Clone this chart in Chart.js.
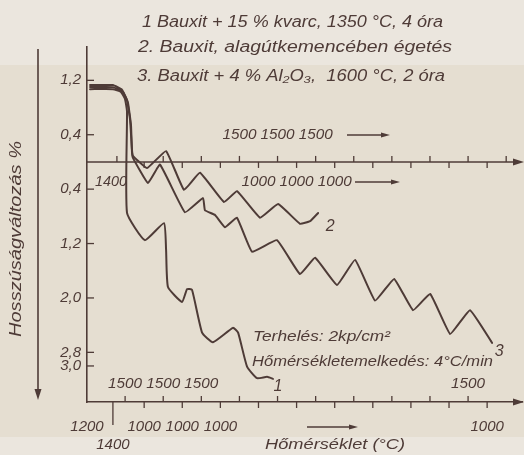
<!DOCTYPE html>
<html><head><meta charset="utf-8">
<script src="https://cdn.jsdelivr.net/npm/chart.js@4"></script>
<style>html,body{margin:0;padding:0;background:#e5ded1;}canvas{display:block;}</style>
</head><body>
<canvas id="c" width="524" height="455"></canvas>
<script>
// ---------- data (x: time in heating-cycle steps, y: length change %) ----------
const curve1X = [0.16,1.36,1.78,1.99,2.10,2.10,3.04,4.04,4.15,4.25,4.99,5.25,5.51,6.04,6.61,7.66,7.93,8.40,8.92,9.45,9.76];
const curve1Y = [1.07,1.07,1.03,0.93,0.74,-0.75,-1.15,-0.90,-1.29,-1.84,-2.06,-1.87,-1.88,-2.51,-2.65,-2.44,-2.51,-3.01,-3.18,-3.16,-3.19];
const curve2X = [0.16,1.36,1.84,2.10,2.26,2.36,2.41,3.15,4.15,5.09,5.93,7.19,7.87,9.08,10.03,11.18,11.71,12.13];
const curve2Y = [1.13,1.13,1.06,0.91,0.62,0.18,0.09,-0.09,0.16,-0.41,-0.16,-0.59,-0.43,-0.82,-0.62,-0.91,-0.87,-0.75];
const curve3X = [0.16,1.36,1.89,2.15,2.31,2.36,2.41,3.20,3.83,5.14,6.09,6.19,6.72,7.24,7.87,8.66,9.97,11.18,11.97,13.12,14.07,15.12,16.12,17.11,18.01,19.06,20.10,21.26];
const curve3Y = [1.10,1.10,1.03,0.87,0.54,0.15,0.06,-0.31,-0.04,-0.74,-0.53,-0.71,-0.78,-0.96,-0.82,-1.32,-1.15,-1.65,-1.41,-1.81,-1.44,-2.04,-1.72,-2.18,-1.94,-2.53,-2.18,-2.66];
const curveNames = ['1','2','3'];

const yTickValues = [1.2,0.4,0,-0.4,-1.2,-2.0,-2.8,-3.0];
const yTickLabels = ['1,2','0,4','','0,4','1,2','2,0','2,8','3,0'];
const xTickValues = [0,1.36,3,5,7,21];
const xTickLabels = ['1200',['','1400'],'1000','1000','1000','1000'];

const midUpperValues = [8,10,12];      const midUpperLabels = ['1500','1500','1500'];
const midLowerValues = [9,11,13];      const midLowerLabels = ['1000','1000','1000'];
const midStartValue = 1.26;            const midStartLabel = '1400';
const bottomInnerValues = [2,4,6,20];  const bottomInnerLabels = ['1500','1500','1500','1500'];

const legendLines = ['1 Bauxit + 15 % kvarc, 1350 °C, 4 óra',
                     '2. Bauxit, alagútkemencében égetés',
                     '3. Bauxit + 4 % Al\u2082O\u2083,  1600 °C, 2 óra'];
const noteLines = ['Terhelés: 2kp/cm²','Hőmérsékletemelkedés: 4°C/min'];
const yTitle = 'Hosszúságváltozás %';
const xTitle = 'Hőmérséklet (°C)';

// ---------- styling ----------
const INK = '#4e3b37';
const FONT = '"Liberation Sans","DejaVu Sans",sans-serif';

function pts(xs, ys){ return xs.map((x,i)=>({x:x, y:ys[i]})); }

function drawT(ctx, s, x, y, size, w, align){
  ctx.save();
  ctx.font = 'italic ' + size + 'px ' + FONT;
  ctx.fillStyle = INK; ctx.textBaseline = 'middle'; ctx.textAlign = align || 'left';
  const m = ctx.measureText(s).width;
  const sx = w ? w / m : 1;
  ctx.translate(x, y); ctx.scale(sx, 1); ctx.fillText(s, 0, 0);
  ctx.restore();
}
function hArrow(ctx, x1, x2, y, head, hw, lw){
  ctx.save(); ctx.strokeStyle = INK; ctx.fillStyle = INK; ctx.lineWidth = lw;
  ctx.beginPath(); ctx.moveTo(x1, y); ctx.lineTo(x2 - head + 1, y); ctx.stroke();
  ctx.beginPath(); ctx.moveTo(x2, y); ctx.lineTo(x2 - head, y - hw); ctx.lineTo(x2 - head, y + hw); ctx.closePath(); ctx.fill();
  ctx.restore();
}
function line(ctx, x1, y1, x2, y2, lw){
  ctx.save(); ctx.strokeStyle = INK; ctx.lineWidth = lw || 1.3;
  ctx.beginPath(); ctx.moveTo(x1, y1); ctx.lineTo(x2, y2); ctx.stroke(); ctx.restore();
}

const bgPlugin = {
  id: 'bg',
  beforeDraw(chart){
    const c = chart.ctx, W = chart.width, H = chart.height;
    c.save();
    c.fillStyle = '#e5ded1'; c.fillRect(0, 0, W, H);
    c.fillStyle = '#ebe6de'; c.fillRect(0, 0, W, 65); c.fillRect(0, 437, W, H - 437);
    c.restore();
  }
};

const annoPlugin = {
  id: 'anno',
  beforeDatasetsDraw(chart){
    const c = chart.ctx, xs = chart.scales.x, ys = chart.scales.y, a = chart.chartArea;
    const y0 = ys.getPixelForValue(0);
    // zero axis with arrow
    hArrow(c, a.left, 524, y0, 11, 3.5, 1.6);
    // bottom axis arrow
    hArrow(c, a.right - 4, 524, a.bottom, 11, 3.5, 1.6);
    // zero-axis ticks
    line(c, xs.getPixelForValue(1.57), y0, xs.getPixelForValue(1.57), y0 - 6);
    for (let u = 3; u <= 22; u++) {
      const px = xs.getPixelForValue(u);
      line(c, px, y0, px, u % 2 === 0 ? y0 - 6 : y0 + 6);
    }
    // bottom axis ticks
    for (let u = 2; u <= 21; u++) {
      const px = xs.getPixelForValue(u);
      line(c, px, a.bottom, px, u % 2 === 0 ? a.bottom - 6 : a.bottom + 6);
    }
    const p14 = xs.getPixelForValue(1.36);
    line(c, p14, a.bottom, p14, a.bottom + 23);
    // y ticks inward
    yTickValues.forEach(v => { if (v !== 0) { const py = ys.getPixelForValue(v); line(c, a.left, py, a.left + 7, py); } });
  },
  afterDraw(chart){
    const c = chart.ctx, xs = chart.scales.x, ys = chart.scales.y, a = chart.chartArea;
    // legend block
    drawT(c, legendLines[0], 142, 23, 16, 301);
    drawT(c, legendLines[1], 138, 48, 16, 314);
    drawT(c, legendLines[2], 137, 77, 16, 308);
    // y title with arrow
    c.save(); c.translate(17, 239); c.rotate(-Math.PI / 2);
    drawT(c, yTitle, 0, 0, 16, 196, 'center'); c.restore();
    line(c, 38, 49, 38, 390, 1.6);
    c.save(); c.fillStyle = INK; c.beginPath(); c.moveTo(38, 400); c.lineTo(34.5, 389); c.lineTo(41.5, 389); c.closePath(); c.fill(); c.restore();
    // inner numbers
    midUpperValues.forEach((v,i) => drawT(c, midUpperLabels[i], xs.getPixelForValue(v), 135, 14, 34, 'center'));
    midLowerValues.forEach((v,i) => drawT(c, midLowerLabels[i], xs.getPixelForValue(v), 182, 14, 34, 'center'));
    drawT(c, midStartLabel, xs.getPixelForValue(midStartValue), 182, 14, 32, 'center');
    bottomInnerValues.forEach((v,i) => drawT(c, bottomInnerLabels[i], xs.getPixelForValue(v), 384, 14, 34, 'center'));
    hArrow(c, 347, 390, 135, 9, 2.5, 1.4);
    hArrow(c, 355, 400, 182, 9, 2.5, 1.4);
    hArrow(c, 307, 358, 427, 9, 2.5, 1.4);
    // notes
    drawT(c, noteLines[0], 253, 337, 15, 137);
    drawT(c, noteLines[1], 252, 362, 15, 241);
    drawT(c, xTitle, 335, 445, 15, 140, 'center');
    // curve end labels
    const offs = [[5, 8], [12, 14], [7, 9]];
    chart.data.datasets.forEach((ds, i) => {
      const meta = chart.getDatasetMeta(i);
      const last = meta.data[meta.data.length - 1];
      drawT(c, curveNames[i], last.x + offs[i][0], last.y + offs[i][1], 16, 0, 'center');
    });
  }
};

const tickFont = {family: FONT, size: 15, style: 'italic'};

new Chart(document.getElementById('c').getContext('2d'), {
  type: 'line',
  data: { datasets: [
    {label: curveNames[0], data: pts(curve1X, curve1Y), tension: 0.15},
    {label: curveNames[1], data: pts(curve2X, curve2Y), tension: 0.1},
    {label: curveNames[2], data: pts(curve3X, curve3Y), tension: 0.1}
  ]},
  options: {
    responsive: false, animation: false, devicePixelRatio: 1,
    layout: {padding: {top: 47, right: 2, left: 0, bottom: 0}},
    plugins: {legend: {display: false}, tooltip: {enabled: false}},
    elements: {
      point: {radius: 0},
      line: {borderColor: INK, borderWidth: 2, fill: false, borderJoinStyle: 'round', borderCapStyle: 'round'}
    },
    scales: {
      x: {
        type: 'linear', min: 0, max: 22.83,
        grid: {display: false, drawTicks: false},
        border: {display: true, color: INK, width: 1.6},
        afterBuildTicks: s => { s.ticks = xTickValues.map(v => ({value: v})); },
        afterFit: s => { s.height = 53; },
        ticks: {autoSkip: false, maxRotation: 0, minRotation: 0, padding: 16, color: INK, font: tickFont,
                callback: (v, i) => xTickLabels[i]}
      },
      y: {
        type: 'linear', min: -3.53, max: 1.69,
        grid: {display: false, drawTicks: false},
        border: {display: true, color: INK, width: 1.6},
        afterBuildTicks: s => { s.ticks = yTickValues.map(v => ({value: v})); },
        afterFit: s => { s.width = 87; },
        ticks: {autoSkip: false, padding: 6, color: INK, font: tickFont,
                callback: (v, i) => yTickLabels[i]}
      }
    }
  },
  plugins: [bgPlugin, annoPlugin]
});
</script>
</body></html>
